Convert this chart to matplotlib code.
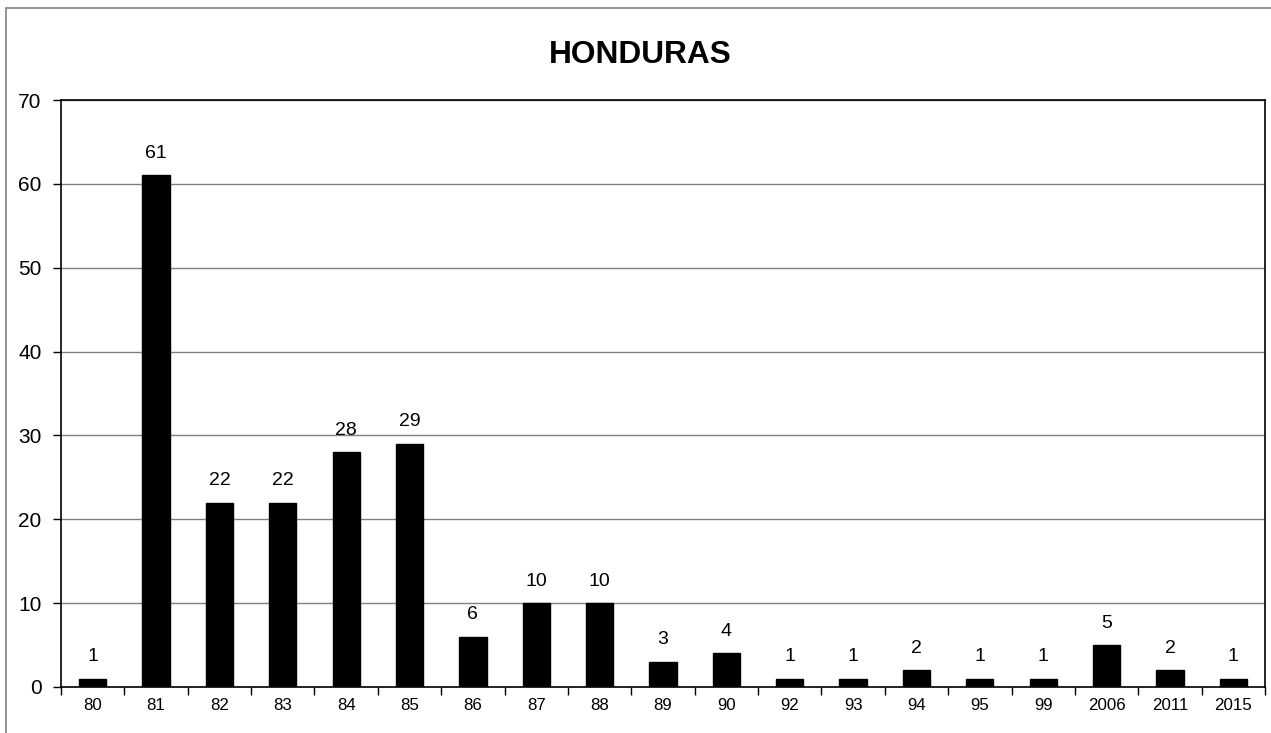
import matplotlib
matplotlib.use("Agg")
import matplotlib.pyplot as plt
from matplotlib.patches import Rectangle

categories = ["80", "81", "82", "83", "84", "85", "86", "87", "88", "89", "90",
              "92", "93", "94", "95", "99", "2006", "2011", "2015"]
values = [1, 61, 22, 22, 28, 29, 6, 10, 10, 3, 4, 1, 1, 2, 1, 1, 5, 2, 1]
title = "HONDURAS"

plt.rcParams['font.family'] = ['Liberation Sans', 'DejaVu Sans']

W, H = 1271, 733
fig = plt.figure(figsize=(W / 100, H / 100), dpi=100)
ax = fig.add_axes([61 / W, 1 - 687 / H, (1265 - 61) / W, (687 - 100) / H])

# outer chart frame
fig.patches.append(Rectangle((6 / W, -0.05), 1.1, 1 - 8 / H + 0.05,
                             transform=fig.transFigure, fill=False,
                             edgecolor='#808080', linewidth=1.2))

x = list(range(len(categories)))
ax.bar(x, values, width=0.43, color='black', edgecolor='black')
for xi, v in zip(x, values):
    ax.text(xi, v + 1.6, str(v), ha='center', va='bottom', fontsize=14)

ax.set_xlim(-0.5, len(categories) - 0.5)
ax.set_ylim(0, 70)
ax.set_yticks(range(0, 71, 10))
ax.tick_params(axis='y', labelsize=15, direction='out', length=6, width=1, pad=8)
ax.set_xticks(x)
ax.set_xticklabels(categories, fontsize=12.2)
ax.tick_params(axis='x', length=0, pad=8)
ax.set_xticks([i - 0.5 for i in range(len(categories) + 1)], minor=True)
ax.tick_params(axis='x', which='minor', direction='out', length=6, width=1)
ax.yaxis.grid(True, color='#808080', linewidth=1)
ax.set_axisbelow(True)
for s in ax.spines.values():
    s.set_color('black')
    s.set_linewidth(1.2)

fig.text(640 / W, 1 - 55 / H, title, ha='center', va='center',
         fontsize=22.8, fontweight='bold')

fig.savefig("out.png", dpi=100)
